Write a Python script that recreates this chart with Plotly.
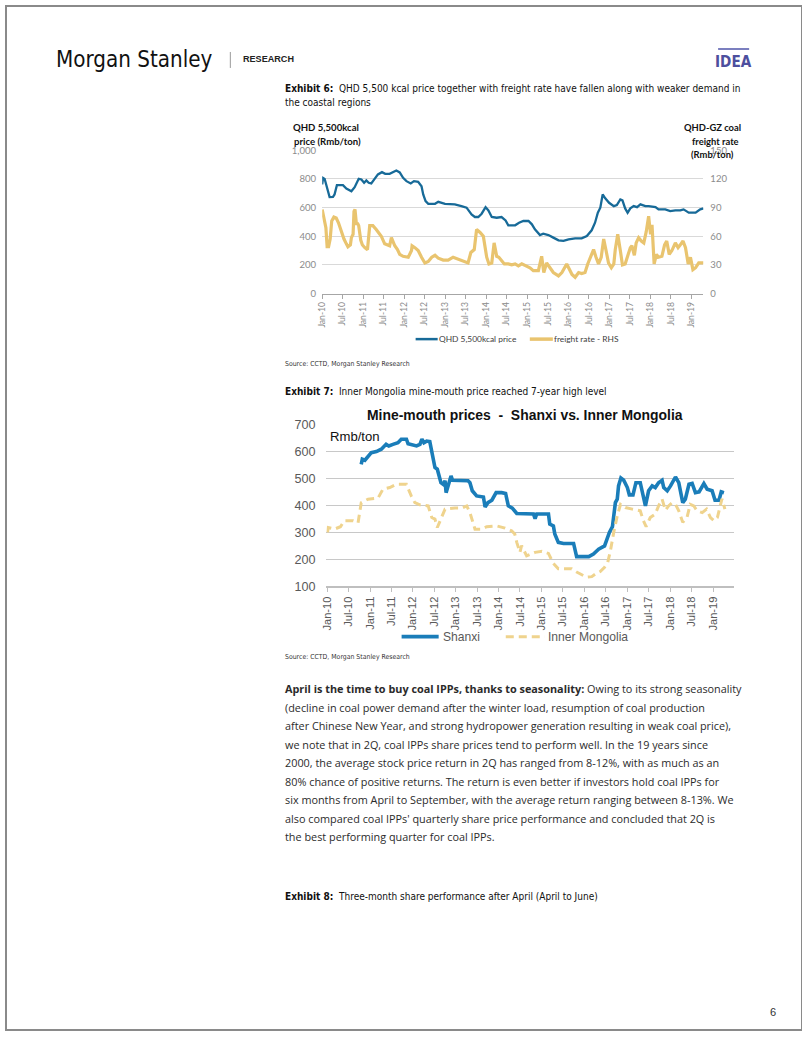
import plotly.graph_objects as go

W, H = 802, 1037

# ---------------- Exhibit 6 data ----------------
qhd_dates = ["2010-01-01","2010-01-09","2010-01-23","2010-02-14","2010-03-08","2010-04-07","2010-04-21","2010-05-12",
             "2010-07-05","2010-08-04","2010-09-18","2010-10-17","2010-11-22","2010-12-16","2011-01-09","2011-01-29",
             "2011-02-19","2011-03-14","2011-04-13","2011-05-12","2011-06-17","2011-07-16","2011-08-24","2011-09-23",
             "2011-10-23","2011-11-22","2011-12-22","2012-01-21","2012-02-28","2012-03-28","2012-05-04","2012-06-03",
             "2012-06-18","2012-07-09","2012-08-02","2012-10-01","2012-10-30","2012-12-29","2013-03-26","2013-05-24",
             "2013-07-09","2013-08-22","2013-09-21","2013-10-21","2013-11-20","2013-12-25","2014-01-19","2014-02-18",
             "2014-04-03","2014-05-16","2014-06-21","2014-07-15","2014-09-14","2014-10-19","2014-11-26","2015-01-11",
             "2015-02-10","2015-03-09","2015-04-23","2015-05-22","2015-07-07","2015-08-20","2015-10-05","2015-11-18",
             "2016-01-03","2016-03-01","2016-04-28","2016-06-13","2016-07-26","2016-08-25","2016-09-19","2016-10-11",
             "2016-11-01","2016-11-24","2016-12-28","2017-02-08","2017-03-07","2017-04-07","2017-04-26","2017-05-20",
             "2017-06-11","2017-07-05","2017-08-04","2017-09-03","2017-10-03","2017-11-16","2017-12-15","2018-02-14",
             "2018-03-13","2018-05-12","2018-06-25","2018-08-10","2018-09-23","2018-10-22","2018-12-07","2019-02-06",
             "2019-03-19","2019-04-18"]
qhd_price = [761,807,800,738,673,675,691,756,
             756,733,714,742,800,796,773,789,
             773,768,796,831,847,835,835,847,
             858,845,807,784,768,784,780,749,
             691,645,626,626,640,626,622,610,
             599,552,534,534,557,603,580,534,
             529,534,510,476,476,494,506,506,
             483,448,408,418,408,390,371,367,
             378,385,385,401,441,494,564,599,
             691,664,633,610,617,657,650,594,
             564,594,610,603,622,610,610,603,
             587,587,575,580,580,587,564,564,
             587,594]

freight_dates = ["2010-01-01","2010-01-17","2010-02-03","2010-02-14","2010-02-27","2010-03-13","2010-03-27","2010-04-15",
                 "2010-05-06","2010-05-26","2010-06-20","2010-07-14","2010-08-04","2010-08-18","2010-09-09","2010-09-18",
                 "2010-10-03","2010-10-11","2010-10-20","2010-11-02","2010-11-10","2010-11-22","2010-12-10","2010-12-24",
                 "2011-01-15","2011-02-08","2011-02-28","2011-03-28","2011-04-27","2011-05-18","2011-06-11","2011-07-11",
                 "2011-08-10","2011-08-24","2011-09-09","2011-10-09","2011-11-02","2011-11-22","2011-12-22","2012-02-06",
                 "2012-03-06","2012-03-11","2012-04-05","2012-05-04","2012-06-03","2012-07-03","2012-08-02","2012-09-02",
                 "2012-10-01","2012-10-30","2012-12-13","2013-01-26","2013-03-11","2013-04-24","2013-06-09","2013-07-22",
                 "2013-08-16","2013-09-15","2013-10-06","2013-11-06","2013-12-05","2014-01-04","2014-01-24","2014-02-18",
                 "2014-03-11","2014-04-03","2014-04-22","2014-05-16","2014-06-10","2014-07-15","2014-08-14","2014-09-14",
                 "2014-10-13","2014-11-12","2014-12-25","2015-01-24","2015-02-23","2015-04-09","2015-05-08","2015-05-27",
                 "2015-06-21","2015-07-21","2015-08-20","2015-10-05","2015-11-04","2015-12-17","2016-01-08","2016-02-02",
                 "2016-03-01","2016-04-01","2016-04-28","2016-05-28","2016-06-21","2016-07-12","2016-08-12","2016-09-03",
                 "2016-09-25","2016-10-19","2016-11-10","2016-12-01","2016-12-23","2017-01-17","2017-02-08","2017-02-21",
                 "2017-03-15","2017-04-07","2017-04-26","2017-05-20","2017-06-14","2017-07-05","2017-07-19","2017-08-10",
                 "2017-08-26","2017-09-17","2017-10-11","2017-11-02","2017-11-24","2017-12-15","2018-01-01","2018-01-14",
                 "2018-02-02","2018-02-22","2018-03-13","2018-04-12","2018-05-06","2018-05-25","2018-06-16","2018-07-10",
                 "2018-08-10","2018-09-03","2018-09-23","2018-10-17","2018-11-08","2018-12-02","2018-12-22","2019-01-13",
                 "2019-02-06","2019-03-06","2019-04-18"]
freight_rate = [88,77.5,69,49,49,57,76,80,
                79,74,64,57,52,49,51,58.5,
                62,86,88,72,74,71,56,51,
                48,46,71,71,67,64,60,52,
                50,50,58.5,50,46,41,39,38,
                45,50,48,45,38,32,33.5,38,
                40,37,35,35,38,36,34,32,
                43,46,67,64,60,38,31,32,
                53,39,38,35,31,31,30,31,
                29,31,29,27,24,24,39,22,
                32,27,22,18.5,22,31,25,20,
                17,22,21,22,31,38,46,38,
                31,38,57,45,32,27,31,46,
                62,45,30,31,41,48,50,40,
                53,58.5,55,53,65,81,62,72,
                31,41,38,39,51,55,41,45,
                53,48,51,55,48,31,38,25,
                27,32,32]

# ---------------- Exhibit 7 data ----------------
shanxi_dates = ["2010-10-18","2010-10-27","2010-11-18","2010-12-15","2011-01-12","2011-02-24","2011-04-07","2011-05-18",
                "2011-06-10","2011-07-15","2011-08-27","2011-09-24","2011-11-07","2011-11-21","2012-01-04","2012-02-01",
                "2012-03-01","2012-03-18","2012-04-04","2012-04-27","2012-05-24","2012-06-10","2012-06-21","2012-07-07",
                "2012-07-27","2012-08-10","2012-08-27","2012-09-15","2012-10-01","2012-10-10","2012-10-21","2012-11-04",
                "2012-11-21","2012-12-04","2013-01-21","2013-03-04","2013-04-15","2013-05-01","2013-05-21","2013-06-27",
                "2013-08-24","2013-09-07","2013-10-01","2013-11-04","2013-12-10","2014-01-27","2014-03-01","2014-03-24",
                "2014-04-27","2014-06-04","2014-08-01","2014-10-10","2014-10-24","2014-11-07","2014-11-21","2015-03-01",
                "2015-03-12","2015-04-12","2015-04-24","2015-05-24","2015-07-07","2015-10-01","2015-10-27","2016-02-07",
                "2016-03-18","2016-05-01","2016-06-21","2016-08-01","2016-08-27","2016-09-21","2016-10-07","2016-10-18",
                "2016-11-07","2016-12-01","2017-01-01","2017-01-18","2017-02-18","2017-03-15","2017-04-21","2017-06-04",
                "2017-07-01","2017-08-01","2017-08-27","2017-09-24","2017-10-24","2017-11-07","2017-12-07","2018-01-04",
                "2018-02-15","2018-03-15","2018-04-18","2018-05-10","2018-06-10","2018-07-07","2018-08-04","2018-09-04",
                "2018-10-15","2018-11-12","2018-12-24","2019-01-18","2019-02-21","2019-03-12","2019-04-04"]
shanxi_price = [552,571,567,583,595,599,608,626,
                620,626,632,645,645,628,624,620,
                626,645,632,638,636,601,577,540,
                534,515,484,478,491,447,466,484,
                509,493,493,493,491,484,454,435,
                431,394,410,419,447,447,444,398,
                390,370,368,368,368,351,368,368,
                331,324,294,263,259,259,210,210,
                220,238,250,300,321,410,423,472,
                501,493,466,439,439,484,484,398,
                454,472,466,484,493,466,454,472,
                505,484,410,423,478,481,447,450,
                481,460,454,419,419,450,447]

im_dates = ["2010-01-04","2010-01-10","2010-03-04","2010-04-24","2010-05-27","2010-08-10","2010-09-21","2010-10-18",
            "2010-12-15","2011-03-10","2011-04-21","2011-06-18","2011-08-12","2011-11-07","2011-12-18","2012-01-18",
            "2012-03-01","2012-05-10","2012-06-10","2012-07-07","2012-07-27","2012-09-04","2012-10-01","2012-12-24",
            "2013-02-21","2013-04-04","2013-05-01","2013-06-13","2013-08-10","2013-09-21","2013-12-15","2014-02-24",
            "2014-04-21","2014-05-18","2014-06-04","2014-07-01","2014-07-15","2014-08-27","2014-11-07","2015-01-04",
            "2015-03-01","2015-04-12","2015-05-24","2015-09-15","2015-10-27","2015-12-24","2016-01-21","2016-03-04",
            "2016-04-04","2016-05-15","2016-06-21","2016-07-18","2016-08-10","2016-09-07","2016-10-07","2016-11-04",
            "2016-12-15","2017-02-12","2017-04-21","2017-05-18","2017-06-10","2017-07-15","2017-08-27","2017-09-24",
            "2017-10-24","2017-11-21","2017-12-18","2018-01-18","2018-02-15","2018-03-15","2018-04-18","2018-05-24",
            "2018-06-21","2018-07-21","2018-08-18","2018-10-01","2018-11-07","2018-12-10","2019-01-10","2019-02-07",
            "2019-03-04","2019-03-18","2019-04-12"]
im_price = [300,318,312,321,343,343,336,410,
            423,427,460,466,478,478,435,410,
            402,398,355,349,318,361,386,390,
            390,398,373,312,312,321,324,316,
            306,294,263,226,251,213,226,230,
            222,185,165,165,153,140,134,136,
            146,155,171,189,232,300,361,404,
            392,386,380,343,321,355,368,398,
            423,382,398,410,404,380,337,355,
            404,398,380,373,386,355,343,355,
            404,424,386]

tick_dates = ["2010-01-01","2010-07-01","2011-01-01","2011-07-01","2012-01-01","2012-07-01","2013-01-01",
              "2013-07-01","2014-01-01","2014-07-01","2015-01-01","2015-07-01","2016-01-01","2016-07-01",
              "2017-01-01","2017-07-01","2018-01-01","2018-07-01","2019-01-01"]
tick_labels = ["Jan-10","Jul-10","Jan-11","Jul-11","Jan-12","Jul-12","Jan-13","Jul-13","Jan-14","Jul-14",
               "Jan-15","Jul-15","Jan-16","Jul-16","Jan-17","Jul-17","Jan-18","Jul-18","Jan-19"]

left_ticks = [0, 200, 400, 600, 800, 1000]
left_labels = ["0", "200", "400", "600", "800", "1,000"]
right_ticks = [0, 30, 60, 90, 120, 150]
ex7_ticks = [100, 200, 300, 400, 500, 600, 700]

body_lines = [
    "<b>April is the time to buy coal IPPs, thanks to seasonality:</b> Owing to its strong seasonality",
    "(decline in coal power demand after the winter load, resumption of coal production",
    "after Chinese New Year, and strong hydropower generation resulting in weak coal price),",
    "we note that in 2Q, coal IPPs share prices tend to perform well. In the 19 years since",
    "2000, the average stock price return in 2Q has ranged from 8-12%, with as much as an",
    "80% chance of positive returns. The return is even better if investors hold coal IPPs for",
    "six months from April to September, with the average return ranging between 8-13%. We",
    "also compared coal IPPs' quarterly share price performance and concluded that 2Q is",
    "the best performing quarter for coal IPPs.",
]

# ---------------- helpers ----------------
# the photographed page is inset by ~5px and scaled ~0.99; positions are pre-compensated
OFF_X, OFF_Y, SC_X, SC_Y = 5.0, 5.0, 0.991, 0.988

def X(px):
    return ((px - OFF_X) / SC_X) / W

def Y(py):
    return 1 - ((py - OFF_Y) / SC_Y) / H

def fs(size):
    return size / 0.99

NARROW = "DejaVu Sans Condensed, Liberation Sans Narrow, sans-serif"
ARIAL = "Liberation Sans, Arial, sans-serif"
CAL = "Lato, Carlito, sans-serif"
BODY = "Open Sans, Noto Sans, sans-serif"

annotations = []
def ann(text, px, py, size, family, color="#000000", xanchor="left", yanchor="middle", align="left"):
    annotations.append(dict(text=text, x=X(px), y=Y(py), xref="paper", yref="paper",
                            xanchor=xanchor, yanchor=yanchor, align=align, showarrow=False,
                            font=dict(size=fs(size), family=family, color=color)))

shapes = []
def hline(x0, x1, y, color, width, dash=None):
    ln = dict(color=color, width=width)
    if dash:
        ln["dash"] = dash
    shapes.append(dict(type="line", xref="paper", yref="paper", x0=X(x0), x1=X(x1), y0=Y(y), y1=Y(y), line=ln))

fig = go.Figure()

# Exhibit 6 traces
fig.add_trace(go.Scatter(x=freight_dates, y=freight_rate, mode="lines", xaxis="x", yaxis="y2",
                         line=dict(color="#e9c46f", width=3.2), showlegend=False, hoverinfo="skip"))
fig.add_trace(go.Scatter(x=qhd_dates, y=qhd_price, mode="lines", xaxis="x", yaxis="y",
                         line=dict(color="#176a98", width=2.3), showlegend=False, hoverinfo="skip"))

# Exhibit 7 traces
fig.add_trace(go.Scatter(x=shanxi_dates, y=shanxi_price, mode="lines", xaxis="x2", yaxis="y3",
                         line=dict(color="#1a7db9", width=3.6), showlegend=False, hoverinfo="skip"))
fig.add_trace(go.Scatter(x=im_dates, y=im_price, mode="lines", xaxis="x2", yaxis="y3",
                         line=dict(color="#efd38d", width=3, dash="8px,5px"), showlegend=False, hoverinfo="skip"))

# ---------------- text ----------------
# header
ann("Morgan Stanley", 53, 58, 22, NARROW, "#111111")
shapes.append(dict(type="line", xref="paper", yref="paper", x0=X(229), x1=X(229), y0=Y(51), y1=Y(67),
                   line=dict(color="#9a9a9a", width=1)))
ann("<b>RESEARCH</b>", 240, 58.5, 9, ARIAL, "#222222")
shapes.append(dict(type="line", xref="paper", yref="paper", x0=X(716), x1=X(747), y0=Y(48), y1=Y(48),
                   line=dict(color="#7b7fbf", width=2)))
ann("<b>IDEA</b>", 731.5, 61, 15, NARROW, "#4d4f9e", xanchor="center")

# Exhibit 6 caption
CAP = 9.9
ann("<b>Exhibit 6:</b>\u00a0 QHD 5,500 kcal price together with freight rate have fallen along with weaker demand in",
    282, 88, CAP, NARROW, "#111111")
ann("the coastal regions", 282, 102, CAP, NARROW, "#111111")

# Exhibit 6 axis titles
ann("<b>QHD 5,500kcal</b>", 325, 127, 9.5, CAL, "#111111", xanchor="center")
ann("<b>price (Rmb/ton)</b>", 326, 140.5, 9.5, CAL, "#111111", xanchor="center")
ann("<b>QHD-GZ coal</b>", 710, 127, 9.3, CAL, "#111111", xanchor="center")
ann("<b>freight rate</b>", 713, 141, 9.3, CAL, "#111111", xanchor="center")
ann("<b>(Rmb/ton)</b>", 710, 154, 9.3, CAL, "#111111", xanchor="center")

# Exhibit 6 legend
hline(414, 436, 338.3, "#176a98", 2.5)
ann("QHD 5,500kcal price", 435, 338.3, 8.3, CAL, "#404040")
hline(528, 551, 338.3, "#e9c46f", 3.5)
ann("freight rate - RHS", 550, 338.3, 8.3, CAL, "#404040")
ann("Source: CCTD, Morgan Stanley Research", 282, 363, 6.8, NARROW, "#333333")

# Exhibit 7 caption and chart text
ann("<b>Exhibit 7:</b>\u00a0 Inner Mongolia mine-mouth price reached 7-year high level", 282, 390.5, CAP, NARROW, "#111111")
ann("<b>Mine-mouth prices\u00a0 -\u00a0 Shanxi vs. Inner Mongolia</b>", 523, 414, 13.8, ARIAL, "#111111", xanchor="center")
ann("Rmb/ton", 327, 435.5, 13, ARIAL, "#111111")
hline(400, 437, 636, "#1a7db9", 3.6)
ann("Shanxi", 439, 636, 12, ARIAL, "#595959")
hline(504, 543, 636, "#efd38d", 3, "8px,5px")
ann("Inner Mongolia", 544, 636, 12, ARIAL, "#595959")
ann("Source: CCTD, Morgan Stanley Research", 282, 656, 6.8, NARROW, "#333333")

# body text
for i, line in enumerate(body_lines):
    ann(line, 282, 688 + i * 18.5, 10.75, BODY, "#2b2b2b")

ann("<b>Exhibit 8:</b>\u00a0 Three-month share performance after April (April to June)", 282, 896, CAP, NARROW, "#111111")
ann("6", 771, 1012, 11, ARIAL, "#333333", xanchor="center")

# page border
shapes.append(dict(type="rect", xref="paper", yref="paper", x0=0, x1=1, y0=0, y1=1,
                   line=dict(color="#8a8a8a", width=2)))

fig.update_layout(
    width=W, height=H,
    margin=dict(l=0, r=0, t=0, b=0),
    paper_bgcolor="white", plot_bgcolor="rgba(0,0,0,0)",
    showlegend=False,
    annotations=annotations, shapes=shapes,
    xaxis=dict(domain=[X(320.7), X(701.3)], anchor="y", type="date",
               range=["2010-01-01", "2019-04-16"],
               tickmode="array", tickvals=tick_dates, ticktext=tick_labels, tickangle=-90,
               tickfont=dict(size=fs(8.5), family=CAL, color="#8c8c8c"),
               showline=True, linecolor="#a6a6a6", linewidth=1,
               ticks="outside", ticklen=4, tickcolor="#a6a6a6", showgrid=False, zeroline=False),
    yaxis=dict(domain=[Y(292.7), Y(149)], anchor="x", range=[0, 1002],
               tickmode="array", tickvals=left_ticks, ticktext=left_labels,
               tickfont=dict(size=fs(9.5), family=CAL, color="#8c8c8c"),
               showgrid=True, gridcolor="#d9d9d9", gridwidth=1, zeroline=False, ticks="",
               ticklabelstandoff=5),
    yaxis2=dict(overlaying="y", side="right", anchor="x", range=[0, 150.3],
                tickmode="array", tickvals=right_ticks,
                tickfont=dict(size=fs(9.5), family=CAL, color="#8c8c8c"),
                showgrid=False, zeroline=False, ticks="", ticklabelstandoff=6),
    xaxis2=dict(domain=[X(325), X(731.7)], anchor="y3", type="date",
                range=["2009-12-26", "2019-06-27"],
                tickmode="array", tickvals=tick_dates, ticktext=tick_labels, tickangle=-90,
                tickfont=dict(size=fs(11), family=ARIAL, color="#595959"),
                showline=True, linecolor="#bfbfbf", linewidth=1.5,
                ticks="outside", ticklen=4, tickcolor="#bfbfbf", showgrid=False, zeroline=False),
    yaxis3=dict(domain=[Y(585.7), Y(423.3)], anchor="x2", range=[100, 701],
                tickmode="array", tickvals=ex7_ticks,
                tickfont=dict(size=fs(12.5), family=ARIAL, color="#595959"),
                showgrid=True, gridcolor="#c8c8c8", gridwidth=1.4, zeroline=False, ticks="",
                ticklabelstandoff=10),
)

fig.write_html(
    "out.html",
    config={"displayModeBar": False},
    post_script=(
        "var s=document.documentElement.style;s.margin='0';s.padding='0';s.overflow='hidden';"
        "var b=document.body.style;b.margin='0';b.padding='0';b.overflow='hidden';"
    ),
)
